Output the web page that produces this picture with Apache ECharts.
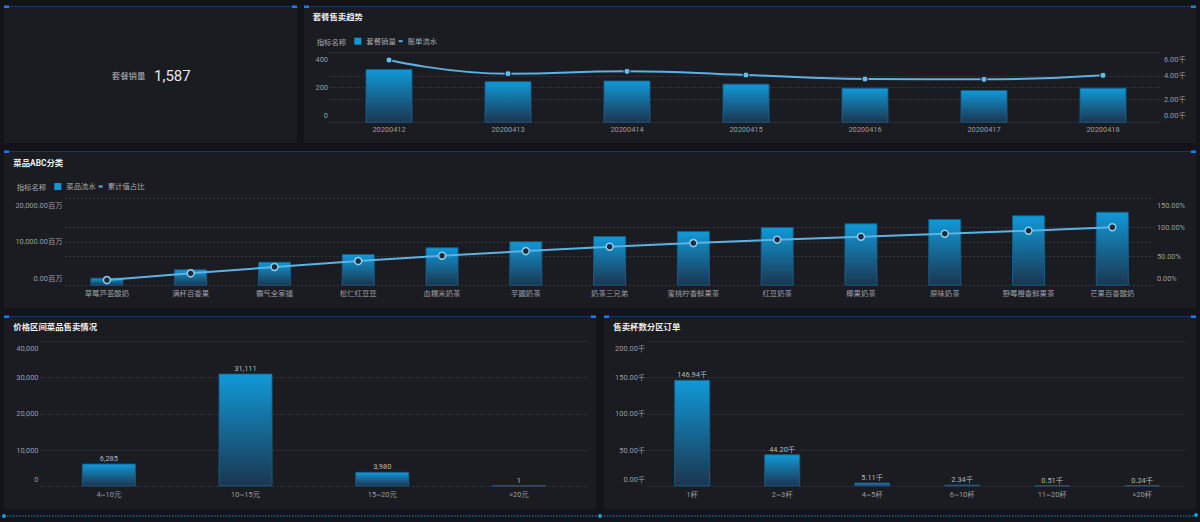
<!DOCTYPE html>
<html>
<head>
<meta charset="utf-8">
<script src="https://cdn.jsdelivr.net/npm/echarts@6/dist/echarts.min.js"></script>
<style>
html,body{margin:0;padding:0;background:#131419;}
#c{width:1200px;height:522px;}
</style>
</head>
<body>
<div id="c"></div>
<script>
// ---------- data ----------
const comboDates = ['20200412','20200413','20200414','20200415','20200416','20200417','20200418'];
const comboSales = [305, 236, 240, 222, 199, 186, 199];
const billFlow = [5340, 4175, 4380, 4065, 3725, 3700, 4040];

const dishNames = ['草莓芦荟酸奶','满杯百香果','霸气全家福','松仁红豆豆','血糯米奶茶','芋圆奶茶','奶茶三兄弟','蜜桃柠香鲜果茶','红豆奶茶','椰果奶茶','原味奶茶','野莓橙香鲜果茶','芒果百香酸奶'];
const dishRevenue = [1820, 3740, 5470, 7230, 8760, 10120, 11330, 12470, 13380, 14230, 15210, 16050, 16870]; // 百万
const cumShare = [9.7, 21.2, 32.0, 42.2, 51.3, 59.3, 66.7, 73.0, 78.7, 83.8, 88.9, 94.0, 100.0]; // %

const priceRanges = ['4~10元','10~15元','15~20元','>20元'];
const priceSales = [6285, 31111, 3980, 1];

const cupRanges = ['1杯','2~3杯','4~5杯','6~10杯','11~20杯','>20杯'];
const cupOrders = [146940, 44200, 5110, 2340, 510, 240];

const kpiLabel = '套餐销量';
const kpiValue = comboSales.reduce((a, b) => a + b, 0);

const axisTicks = {combo: [0, 400, 200], bill: [0, 6000, 2000], dish: [0, 20000, 10000], share: [0, 150, 50], price: [0, 40000, 10000], cup: [0, 200000, 50000]};

// ---------- styles ----------
const FF = 'Roboto, "Noto Sans CJK SC", sans-serif';
const PANEL = '#1b1c21';
const LABEL = '#9a9da3';
const FS = 7.4;
const barGrad = {type: 'linear', x: 0, y: 0, x2: 0, y2: 1, colorStops: [{offset: 0, color: '#1199d8'}, {offset: 1, color: '#1b3650'}]};
const barItem = {color: barGrad, borderColor: 'rgba(22,95,140,0.9)', borderWidth: 1};
const LINE = '#5ab3e6';

const fmtThousand = v => Number(v).toLocaleString('en-US');
const fmtK = v => (v / 1000).toFixed(2) + '千';
const fmtMillion = v => Number(v).toLocaleString('en-US', {minimumFractionDigits: 2, maximumFractionDigits: 2}) + '百万';
const fmtPct = v => Number(v).toFixed(2) + '%';

function yAx(gridIndex, pos, ticks, formatter, margin) {
  return {
    type: 'value', gridIndex: gridIndex, position: pos,
    min: ticks[0], max: ticks[1], interval: ticks[2],
    axisLine: {show: false}, axisTick: {show: false},
    splitLine: {show: true, lineStyle: {color: '#35373e', type: [2, 2], width: 1}},
    axisLabel: {color: LABEL, fontSize: FS, fontFamily: FF, margin: margin, formatter: formatter, lineHeight: 14.5,
      verticalAlignMinLabel: 'bottom', verticalAlignMaxLabel: 'top'}
  };
}
function xAx(gridIndex, data, margin) {
  return {
    type: 'category', gridIndex: gridIndex, data: data,
    axisLine: {show: false}, axisTick: {show: false}, splitLine: {show: false},
    axisLabel: {color: LABEL, fontSize: FS, fontFamily: FF, margin: margin, interval: 0}
  };
}
function txt(text, x, y, size, color, weight, align) {
  return {type: 'text', z: 10, style: {text: text, x: x, y: y, fill: color,
    font: (weight || 'normal') + ' ' + size + 'px ' + FF,
    align: align || 'left', textAlign: align || 'left', verticalAlign: 'middle', textVerticalAlign: 'middle'}};
}
function panel(x, y, w, h) {
  return [
    {type: 'rect', z: -100, shape: {x: x, y: y, width: w, height: h}, style: {fill: PANEL}},
    {type: 'rect', z: -99, shape: {x: x, y: y, width: w, height: 1}, style: {fill: '#1c3560'}},
    {type: 'rect', z: -98, shape: {x: x, y: y - 0.5, width: 5, height: 2.5}, style: {fill: '#1b7cf2'}},
    {type: 'rect', z: -98, shape: {x: x + w - 5, y: y - 0.5, width: 5, height: 2.5}, style: {fill: '#1b7cf2'}}
  ];
}

const graphics = [].concat(
  panel(4, 6, 293, 137),
  panel(304, 6, 892, 137),
  panel(4, 151, 1192, 157),
  panel(4, 316, 592, 193),
  panel(604, 316, 592, 193),
  [
    {type: 'line', z: -90, shape: {x1: 4, y1: 516, x2: 1196, y2: 516}, style: {stroke: '#1a8fcf', lineWidth: 1, lineDash: [1.5, 1.5]}},
    {type: 'circle', z: -89, shape: {cx: 4, cy: 516, r: 2}, style: {fill: '#1a9ad6'}},
    {type: 'circle', z: -89, shape: {cx: 600, cy: 516, r: 2}, style: {fill: '#1a9ad6'}},
    {type: 'circle', z: -89, shape: {cx: 1196, cy: 515, r: 2}, style: {fill: '#1a9ad6'}},
    txt(kpiLabel, 145.3, 76, 8.4, '#b4b7bc', 'normal', 'right'),
    txt(fmtThousand(kpiValue), 154, 76, 15, '#e6e7ea', 'normal', 'left'),
    txt('套餐售卖趋势', 312.7, 17.3, 8.4, '#eceef0', 'bold'),
    txt('指标名称', 316.7, 42, FS, '#a7aab0'),
    txt('菜品ABC分类', 13.3, 163, 8.4, '#eceef0', 'bold'),
    txt('指标名称', 16.7, 187.3, FS, '#a7aab0'),
    txt('价格区间菜品售卖情况', 13.3, 327, 8.4, '#eceef0', 'bold'),
    txt('售卖杯数分区订单', 613.3, 327, 8.4, '#eceef0', 'bold')
  ]
);

function leg(left, top, name, w, h, color) {
  return {left: left, top: top, padding: 0, itemGap: 0, itemWidth: w, itemHeight: h, icon: 'rect',
    selectedMode: false,
    itemStyle: {borderWidth: 0},
    textStyle: {color: '#a7aab0', fontSize: FS, fontFamily: FF},
    data: [{name: name, itemStyle: {color: color, borderWidth: 0}}]};
}

const option = {
  backgroundColor: '#131419',
  animation: false,
  graphic: graphics,
  legend: [
    leg(354.3, 37.5, '套餐销量', 7, 7, '#1597d3'),
    leg(398.7, 37.5, '账单流水', 4, 2, LINE),
    leg(54.3, 182.8, '菜品流水', 7, 7, '#1597d3'),
    leg(98.7, 182.8, '累计值占比', 4, 2, LINE)
  ],
  grid: [
    {left: 329.5, top: 52.3, width: 833, height: 70.4, containLabel: false},
    {left: 65, top: 198, width: 1089.2, height: 87.7, containLabel: false},
    {left: 40.5, top: 341.3, width: 546.8, height: 145, containLabel: false},
    {left: 647.2, top: 341.3, width: 540, height: 145, containLabel: false}
  ],
  xAxis: [
    xAx(0, comboDates, 3),
    xAx(1, dishNames, 4),
    xAx(2, priceRanges, 4),
    xAx(3, cupRanges, 4)
  ],
  yAxis: [
    yAx(0, 'left', axisTicks.combo, v => String(v), 1.5),
    yAx(0, 'right', axisTicks.bill, fmtK, 1.5),
    yAx(1, 'left', axisTicks.dish, fmtMillion, 2.3),
    yAx(1, 'right', axisTicks.share, fmtPct, 2.7),
    yAx(2, 'left', axisTicks.price, fmtThousand, 2),
    yAx(3, 'left', axisTicks.cup, fmtK, 2)
  ],
  series: [
    {name: '套餐销量', type: 'bar', xAxisIndex: 0, yAxisIndex: 0, data: comboSales, barWidth: 47, itemStyle: barItem},
    {name: '账单流水', type: 'line', xAxisIndex: 0, yAxisIndex: 1, data: billFlow, smooth: true,
      color: LINE, symbol: 'circle', symbolSize: 6,
      lineStyle: {color: LINE, width: 2},
      itemStyle: {color: '#63bdee', borderColor: PANEL, borderWidth: 1}},
    {name: '菜品流水', type: 'bar', xAxisIndex: 1, yAxisIndex: 2, data: dishRevenue, barWidth: 33, itemStyle: barItem},
    {name: '累计值占比', type: 'line', xAxisIndex: 1, yAxisIndex: 3, data: cumShare, smooth: false,
      color: LINE, symbol: 'circle', symbolSize: 7,
      lineStyle: {color: LINE, width: 2},
      itemStyle: {color: '#1d2a36', borderColor: '#8ccdf0', borderWidth: 1.5}},
    {name: '价格区间', type: 'bar', xAxisIndex: 2, yAxisIndex: 4, data: priceSales, barWidth: 54, barMinHeight: 1,
      itemStyle: barItem,
      label: {show: true, position: 'top', distance: 1.5, color: '#b5b8bd', fontSize: FS, fontFamily: FF,
        formatter: p => fmtThousand(p.value)}},
    {name: '杯数分区', type: 'bar', xAxisIndex: 3, yAxisIndex: 5, data: cupOrders, barWidth: 36, barMinHeight: 1,
      itemStyle: barItem,
      label: {show: true, position: 'top', distance: 1.5, color: '#b5b8bd', fontSize: FS, fontFamily: FF,
        formatter: p => fmtK(p.value)}}
  ]
};

const chart = echarts.init(document.getElementById('c'), null, {renderer: 'svg', width: 1200, height: 522});
chart.setOption(option);
</script>
</body>
</html>
